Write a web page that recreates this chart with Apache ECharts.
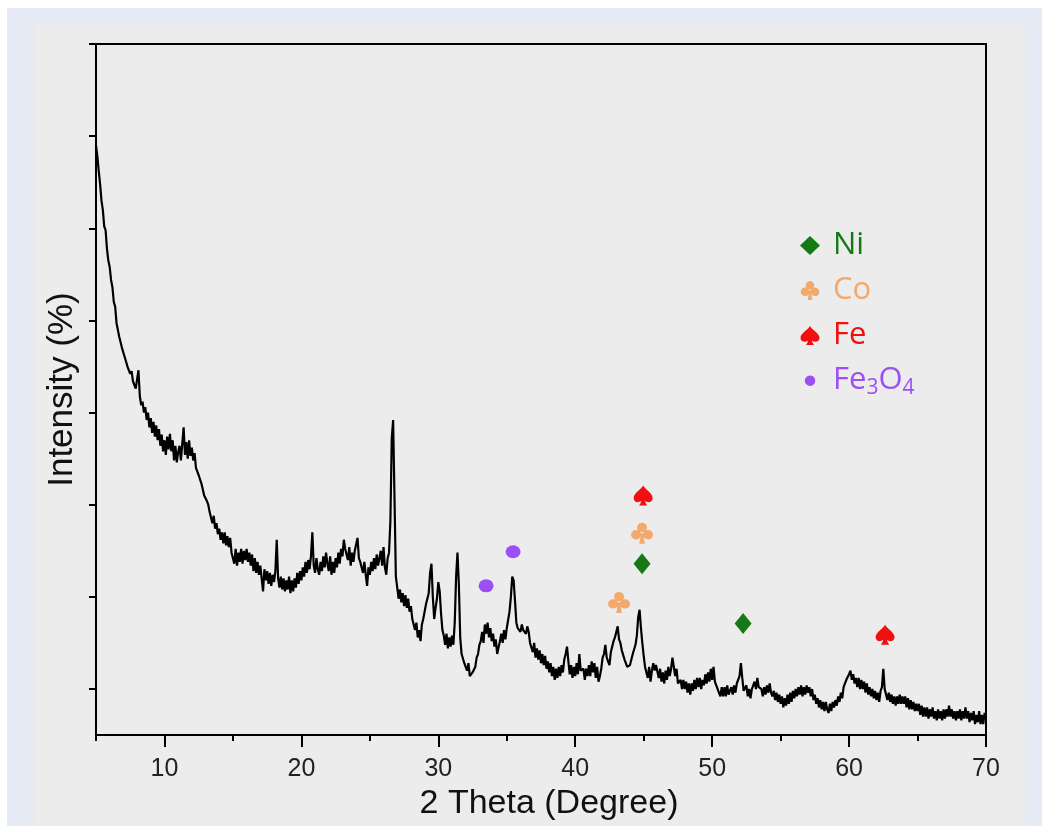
<!DOCTYPE html>
<html>
<head>
<meta charset="utf-8">
<script src="https://cdn.jsdelivr.net/npm/echarts@6/dist/echarts.min.js"></script>
<style>
  html, body { margin: 0; padding: 0; background: #ffffff; }
  #frame { position: absolute; left: 7px; top: 8px; width: 1035px; height: 818px; background: #e5eaf5; }
  #chart { position: absolute; left: 34px; top: 25px; width: 991px; height: 801px; background: #ececec; }
</style>
</head>
<body>
<div id="frame"></div>
<div id="chart"></div>
<script>
// XRD pattern, sampled every 0.1 degree from 5 to 70
const twoThetaStart = 5;
const twoThetaStep = 0.1;
const intensity = [
  640,628,612,598,580,570,552,548,528,515,
  508,494,486,470,465,447,446,432,430,420,
  418,410,412,400,398,392,395,384,386,376,
  378,396,368,358,362,350,356,342,350,334,
  344,328,340,324,336,320,332,314,326,308,
  320,304,324,310,327,308,320,298,314,296,
  307,314,298,316,334,304,318,300,320,303,
  312,298,306,290,292,282,282,273,272,260,
  260,254,250,242,242,230,238,224,230,218,
  224,212,220,208,220,206,216,204,214,198,
  198,186,202,184,198,188,202,186,200,190,
  202,188,198,184,196,178,192,176,188,174,
  184,170,156,180,168,178,164,176,162,174,
  166,178,212,170,160,172,158,170,156,168,
  158,172,154,168,156,170,160,176,164,178,
  168,182,172,188,176,190,180,194,220,184,
  176,192,180,174,188,178,194,182,198,186,
  178,194,174,188,176,192,182,198,186,202,
  194,212,202,200,190,204,184,198,188,200,
  198,214,192,188,190,176,188,174,162,182,
  174,188,178,192,180,196,184,192,200,184,
  204,182,174,192,198,232,322,342,258,172,
  160,148,158,144,154,140,152,138,148,134,
  140,126,126,114,122,106,114,102,120,126,
  134,142,148,154,176,186,150,126,138,148,
  166,156,132,114,108,98,110,94,106,96,
  108,98,122,172,198,164,106,88,86,78,
  80,70,78,64,66,68,68,74,84,88,
  98,102,112,100,120,110,122,106,116,102,
  110,96,104,88,86,102,110,100,114,104,
  116,118,134,150,172,168,146,122,116,118,
  112,120,114,116,110,118,112,100,98,90,
  100,84,94,82,92,78,88,76,86,72,
  80,68,78,64,74,60,72,62,74,64,
  76,68,82,88,96,80,66,76,62,74,
  64,78,66,88,70,68,72,60,72,64,
  76,64,80,68,78,62,74,58,64,72,
  84,88,98,84,84,76,90,92,102,106,
  104,118,104,100,92,90,82,82,74,72,
  76,78,88,90,98,108,128,136,116,100,
  86,74,72,62,74,58,70,78,70,76,
  74,62,72,58,68,56,70,60,74,64,
  72,84,74,64,72,56,56,60,50,60,
  50,58,46,56,44,56,48,60,50,62,
  52,62,50,60,54,66,56,68,58,72,
  60,74,58,58,50,50,42,52,42,52,
  42,54,44,42,52,44,54,46,56,58,
  64,78,62,48,48,54,42,50,40,50,
  48,58,50,62,52,50,50,42,52,44,
  54,46,56,46,42,48,38,46,36,44,
  34,42,30,40,32,44,34,46,36,48,
  40,50,42,52,44,54,42,52,44,54,
  46,52,42,50,38,44,34,40,30,38,
  28,36,26,36,28,24,34,26,36,30,
  38,32,42,36,46,40,52,52,60,62,
  66,70,60,66,56,62,52,62,50,60,
  50,58,46,56,44,52,42,50,40,48,
  38,46,36,48,52,72,50,44,38,46,
  36,44,34,42,32,42,34,44,34,42,
  34,42,30,40,28,38,28,36,26,34,
  26,34,22,32,20,30,20,30,18,28,
  20,30,18,26,16,28,18,26,16,28,
  18,28,20,32,20,28,18,26,16,26,
  18,28,16,26,18,30,18,26,14,24,
  16,26,12,22,14,26,12,22,12,24,
  18
];

// phase markers [2theta, height]
const niMarks = [[44.88, 186], [52.26, 121]];
const coMarks = [[43.2, 144], [44.88, 219]];
const feMarks = [[44.96, 260], [62.63, 109]];
const fe3o4Marks = [[33.49, 162], [35.46, 199]];

const xMajorTicks = [10, 20, 30, 40, 50, 60, 70];
const xMinorTicks = [5, 15, 25, 35, 45, 55, 65];
const yTicks = [50, 150, 250, 350, 450, 550, 650, 750];

const SPADE = 'path://M50 0C58 18 100 38 100 62C100 82 78 90 60 76C62 86 66 94 72 100L28 100C34 94 38 86 40 76C22 90 0 82 0 62C0 38 42 18 50 0Z';
const CLUB = 'path://M50 2A22 22 0 1 1 49.9 2Z M24 36A22 22 0 1 1 23.9 36Z M76 36A22 22 0 1 1 75.9 36Z M46 50L54 50L62 100L38 100Z';
// small dot padded inside a bigger box so the legend icon stays small
const SMALL_DOT = 'path://M0 0L0.1 0L0 0.1Z M40 40L39.9 40L40 39.9Z M31 20A11 11 0 1 1 30.99 19.8Z';

const colors = {
    ni: '#157a15',
    co: '#f2a96c',
    fe: '#f01010',
    fe3o4: '#9d4ff7',
};

const font = 'Liberation Sans';
const legendFont = 'Open Sans';

const chart = echarts.init(document.getElementById('chart'));

const lineData = intensity.map((v, i) => [+(twoThetaStart + i * twoThetaStep).toFixed(1), v]);

const option = {
    animation: false,
    backgroundColor: '#ececec',
    grid: {
        left: 62,
        right: 39,
        top: 19,
        bottom: 89,
        show: true,
        borderColor: '#000',
        borderWidth: 2,
        backgroundColor: 'transparent',
    },
    xAxis: [
        {
            type: 'value',
            min: 5,
            max: 70,
            name: '2 Theta (Degree)',
            nameLocation: 'middle',
            nameGap: 50,
            nameTextStyle: { fontFamily: font, fontSize: 34, color: '#111', padding: [0, 0, 0, 16] },
            axisLine: { lineStyle: { color: '#000', width: 2 } },
            axisTick: { customValues: xMajorTicks, length: 12, lineStyle: { color: '#000', width: 2 } },
            axisLabel: { customValues: xMajorTicks, margin: 22, fontFamily: font, fontSize: 25, color: '#222' },
            splitLine: { show: false },
        },
        {
            type: 'value',
            min: 5,
            max: 70,
            position: 'bottom',
            axisLine: { show: false },
            axisTick: { customValues: xMinorTicks, length: 6, lineStyle: { color: '#000', width: 2 } },
            axisLabel: { show: false },
            splitLine: { show: false },
        },
    ],
    yAxis: {
        type: 'value',
        min: 0,
        max: 750,
        name: 'Intensity (%)',
        nameLocation: 'middle',
        nameGap: 16,
        nameTextStyle: { fontFamily: font, fontSize: 35, color: '#111' },
        axisLine: { show: true, lineStyle: { color: '#000', width: 2 } },
        axisTick: { show: true, customValues: yTicks, length: 7, lineStyle: { color: '#000', width: 2 } },
        axisLabel: { show: false },
        splitLine: { show: false },
    },
    legend: {
        orient: 'vertical',
        left: 761,
        top: 200,
        itemWidth: 20,
        itemHeight: 19,
        itemGap: 14,
        selectedMode: false,
        textStyle: {
            fontFamily: legendFont,
            fontSize: 31,
            padding: [0, 0, 0, 8],
            rich: {
                p: { fontFamily: legendFont, fontSize: 31, color: colors.fe3o4 },
                s: { fontFamily: legendFont, fontSize: 21, color: colors.fe3o4, padding: [16, 0, 0, 0] },
            },
        },
        formatter: (name) => (name === 'Fe3O4' ? '{p|Fe}{s|3}{p|O}{s|4}' : name),
        data: [
            { name: 'Ni', textStyle: { color: colors.ni } },
            { name: 'Co', textStyle: { color: colors.co } },
            { name: 'Fe', textStyle: { color: colors.fe } },
            { name: 'Fe3O4', icon: SMALL_DOT, textStyle: { color: colors.fe3o4 } },
        ],
    },
    series: [
        {
            name: 'XRD',
            type: 'line',
            data: lineData,
            showSymbol: false,
            lineStyle: { color: '#000', width: 2.2 },
            z: 2,
        },
        {
            name: 'Ni',
            type: 'scatter',
            data: niMarks,
            symbol: 'diamond',
            symbolSize: [17, 21],
            itemStyle: { color: colors.ni, opacity: 1 },
            z: 3,
        },
        {
            name: 'Co',
            type: 'scatter',
            data: coMarks,
            symbol: CLUB,
            symbolSize: [22, 21],
            itemStyle: { color: colors.co, opacity: 1 },
            z: 3,
        },
        {
            name: 'Fe',
            type: 'scatter',
            data: feMarks,
            symbol: SPADE,
            symbolSize: [19, 20],
            itemStyle: { color: colors.fe, opacity: 1 },
            z: 3,
        },
        {
            name: 'Fe3O4',
            type: 'scatter',
            data: fe3o4Marks,
            symbol: 'circle',
            symbolSize: [15, 13],
            itemStyle: { color: colors.fe3o4, opacity: 1 },
            z: 3,
        },
    ],
};

chart.setOption(option);
</script>
</body>
</html>
